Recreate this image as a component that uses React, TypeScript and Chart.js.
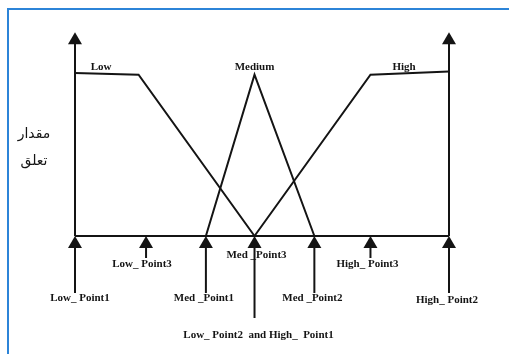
import React, { useEffect, useRef } from "react";
import { Chart, registerables } from "chart.js";

Chart.register(...registerables);

// ---- data ----
const setNames = ["Low", "Medium", "High"];
const setLabelX = [7, 48, 88];
const lowX = [0, 17, 48];
const lowY = [1, 0.99, 0];
const mediumX = [35, 48, 64];
const mediumY = [0, 0.99, 0];
const highX = [48, 79, 100];
const highY = [0, 0.99, 1.01];

const pointLabels = [
  "Low_ Point1",
  "Low_ Point3",
  "Med _Point1",
  "Med _Point3",
  "Med _Point2",
  "High_ Point3",
  "High_ Point2",
];
const pointValues = [0, 19, 35, 48, 64, 79, 100];
const combinedLabel = "Low_ Point2  and High_  Point1";
const yAxisTitle = ["مقدار", "تعلق"];
const axisTop = 1.25;

// ---- layout/style (pixels) ----
const shaftLen = [57, 22, 57, 82, 57, 22, 57];
const labelDx = [5, -4, -2, 2, -2, -3, -2];
const labelDy = [62, 28, 62, 19, 62, 28, 64];
const combinedDx = 4;
const combinedDy = 99;
const INK = "#141414";
const LW = 2;

const toXY = (xs: number[], ys: number[]) => xs.map((x, i) => ({ x, y: ys[i] }));

const diagramPlugin = {
  id: "diagram",
  afterDatasetsDraw(chart: any) {
    const ctx: CanvasRenderingContext2D = chart.ctx;
    const sx = chart.scales.x;
    const sy = chart.scales.y;
    const px = (v: number) => sx.getPixelForValue(v);
    const y0 = sy.getPixelForValue(0);
    const yTop = sy.getPixelForValue(axisTop);
    const W = chart.width;
    const H = chart.height;
    ctx.save();

    // blue frame (top + left)
    ctx.fillStyle = "#2c84d8";
    ctx.fillRect(7, 8, W - 7, 2);
    ctx.fillRect(7, 8, 2, H - 8);

    ctx.strokeStyle = INK;
    ctx.fillStyle = INK;
    ctx.lineWidth = LW;
    const seg = (x1: number, y1: number, x2: number, y2: number) => {
      ctx.beginPath();
      ctx.moveTo(x1, y1);
      ctx.lineTo(x2, y2);
      ctx.stroke();
    };
    const head = (x: number, y: number) => {
      ctx.beginPath();
      ctx.moveTo(x, y);
      ctx.lineTo(x - 7, y + 12);
      ctx.lineTo(x + 7, y + 12);
      ctx.closePath();
      ctx.fill();
    };

    // baseline
    seg(px(pointValues[0]), y0, px(pointValues[pointValues.length - 1]), y0);
    // vertical axes
    [pointValues[0], pointValues[pointValues.length - 1]].forEach((v) => {
      seg(px(v), yTop + 4, px(v), y0);
      head(px(v), yTop);
    });
    // point arrows
    pointValues.forEach((v, i) => {
      const x = px(v);
      seg(x, y0 + 6, x, y0 + shaftLen[i]);
      head(x, y0);
    });

    // text
    ctx.textAlign = "center";
    ctx.textBaseline = "middle";
    ctx.font = "bold 11px 'Liberation Serif'";
    setNames.forEach((n, i) => {
      ctx.fillText(n, px(setLabelX[i]), sy.getPixelForValue(1) - 6);
    });
    pointLabels.forEach((n, i) => {
      ctx.fillText(n, px(pointValues[i]) + labelDx[i], y0 + labelDy[i]);
    });
    ctx.fillText(combinedLabel, px(pointValues[3]) + combinedDx, y0 + combinedDy);

    ctx.font = "14px 'DejaVu Sans'";
    ctx.fillText(yAxisTitle[0], 34, 134);
    ctx.fillText(yAxisTitle[1], 34, 161);
    ctx.restore();
  },
};

export default function App() {
  const ref = useRef<HTMLCanvasElement | null>(null);
  useEffect(() => {
    if (!ref.current) return;
    const lineDs = (data: { x: number; y: number }[]) => ({
      data,
      showLine: true,
      borderColor: INK,
      borderWidth: LW,
      pointRadius: 0,
      tension: 0,
      fill: false,
    });
    const chart = new Chart(ref.current, {
      type: "scatter",
      data: {
        datasets: [
          { label: setNames[0], ...lineDs(toXY(lowX, lowY)) },
          { label: setNames[1], ...lineDs(toXY(mediumX, mediumY)) },
          { label: setNames[2], ...lineDs(toXY(highX, highY)) },
        ],
      },
      options: {
        responsive: false,
        maintainAspectRatio: false,
        animation: false,
        layout: { padding: 0 },
        plugins: { legend: { display: false }, tooltip: { enabled: false } },
        scales: {
          x: { type: "linear", display: false, min: -20.05, max: 116.04 },
          y: { type: "linear", display: false, min: -0.724, max: 1.448 },
        },
      },
      plugins: [diagramPlugin],
    });
    return () => chart.destroy();
  }, []);
  return (
    <div style={{ position: "absolute", left: 0, top: 0, width: 509, height: 354, background: "#fff" }}>
      <canvas ref={ref} width={509} height={354} style={{ display: "block" }} />
    </div>
  );
}
